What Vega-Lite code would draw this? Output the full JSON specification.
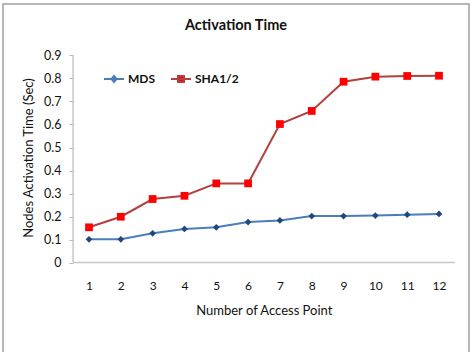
{
  "$schema": "https://vega.github.io/schema/vega-lite/v6.json",
  "width": 466,
  "height": 352,
  "autosize": {"type": "none"},
  "padding": {"left": 3, "top": 4, "right": 5, "bottom": 0},
  "background": "white",
  "config": {
    "view": {"stroke": "#a0a0a0", "strokeWidth": 1.5},
    "font": "Lato"
  },
  "title": {
    "text": "Activation Time",
    "font": "Lato",
    "fontSize": 14.5,
    "fontWeight": "bold",
    "color": "#111111",
    "anchor": "middle",
    "frame": "group",
    "baseline": "middle",
    "offset": -36
  },
  "datasets": {
    "times": [
      {"ap": 1, "series": "MDS", "time": 0.101},
      {"ap": 2, "series": "MDS", "time": 0.101},
      {"ap": 3, "series": "MDS", "time": 0.127},
      {"ap": 4, "series": "MDS", "time": 0.146},
      {"ap": 5, "series": "MDS", "time": 0.153},
      {"ap": 6, "series": "MDS", "time": 0.176},
      {"ap": 7, "series": "MDS", "time": 0.183},
      {"ap": 8, "series": "MDS", "time": 0.202},
      {"ap": 9, "series": "MDS", "time": 0.202},
      {"ap": 10, "series": "MDS", "time": 0.204},
      {"ap": 11, "series": "MDS", "time": 0.208},
      {"ap": 12, "series": "MDS", "time": 0.211},
      {"ap": 1, "series": "SHA1/2", "time": 0.153},
      {"ap": 2, "series": "SHA1/2", "time": 0.199},
      {"ap": 3, "series": "SHA1/2", "time": 0.276},
      {"ap": 4, "series": "SHA1/2", "time": 0.29},
      {"ap": 5, "series": "SHA1/2", "time": 0.344},
      {"ap": 6, "series": "SHA1/2", "time": 0.344},
      {"ap": 7, "series": "SHA1/2", "time": 0.602},
      {"ap": 8, "series": "SHA1/2", "time": 0.659},
      {"ap": 9, "series": "SHA1/2", "time": 0.786},
      {"ap": 10, "series": "SHA1/2", "time": 0.808},
      {"ap": 11, "series": "SHA1/2", "time": 0.811},
      {"ap": 12, "series": "SHA1/2", "time": 0.812}
    ],
    "axisLines": [
      {"ap": 0.5, "ap2": 12.5, "time": 0, "time2": 0},
      {"ap": 0.5, "ap2": 0.5, "time": 0, "time2": 0.9}
    ]
  },
  "encoding": {
    "x": {
      "field": "ap",
      "type": "quantitative",
      "scale": {"domain": [-1.703, 12.943], "nice": false, "zero": false},
      "axis": {
        "orient": "bottom",
        "offset": -93.5,
        "values": [1, 2, 3, 4, 5, 6, 7, 8, 9, 10, 11, 12],
        "format": "d",
        "domain": false,
        "ticks": false,
        "tickSize": 0,
        "grid": false,
        "labelOverlap": false,
        "labelPadding": 23,
        "labelBaseline": "middle",
        "labelFont": "Lato",
        "labelFontSize": 12,
        "labelColor": "#111111",
        "title": "Number of  Access Point",
        "titleFont": "Lato",
        "titleFontSize": 13,
        "titleFontWeight": "normal",
        "titleColor": "#111111",
        "titleX": 260.8,
        "titleY": 47.5,
        "titleBaseline": "middle"
      }
    },
    "y": {
      "field": "time",
      "type": "quantitative",
      "scale": {"domain": [-0.4065, 1.1239], "nice": false, "zero": false},
      "axis": {
        "orient": "left",
        "offset": -70,
        "values": [0, 0.1, 0.2, 0.3, 0.4, 0.5, 0.6, 0.7, 0.8, 0.9],
        "format": ".1~f",
        "domain": false,
        "grid": false,
        "ticks": true,
        "tickSize": 4,
        "tickColor": "#b8b8b8",
        "labelOverlap": false,
        "labelPadding": 8,
        "labelFont": "Lato",
        "labelFontSize": 12.5,
        "labelColor": "#111111",
        "title": "Nodes Activation Time (Sec)",
        "titleFont": "Lato",
        "titleFontSize": 13,
        "titleFontWeight": "normal",
        "titleColor": "#111111",
        "titleX": -45,
        "titleY": 153.5,
        "titleBaseline": "middle"
      }
    }
  },
  "layer": [
    {
      "data": {"name": "axisLines"},
      "mark": {"type": "rule", "color": "#c6c6c6", "strokeWidth": 1.5},
      "encoding": {
        "x2": {"field": "ap2"},
        "y2": {"field": "time2"}
      }
    },
    {
      "data": {"name": "times"},
      "mark": {"type": "line", "strokeWidth": 2},
      "encoding": {
        "color": {
          "field": "series",
          "type": "nominal",
          "scale": {"domain": ["MDS", "SHA1/2"], "range": ["#4a7ebb", "#b3403d"]},
          "legend": {
            "orient": "none",
            "legendX": 100,
            "legendY": 64,
            "direction": "horizontal",
            "title": null,
            "padding": 0,
            "symbolSize": 400,
            "symbolStrokeWidth": 2,
            "symbolType": "M-1,0H1",
            "labelFont": "Lato",
            "labelFontSize": 12,
            "labelFontWeight": "bold",
            "labelColor": "#111111",
            "labelOffset": 3,
            "columnPadding": 11,
            "encode": {
              "symbols": {
                "update": {
                  "shape": {"signal": "datum.value === 'MDS' ? 'M-1,0H1M0,-0.3L0.25,0L0,0.3L-0.25,0Z' : 'M-1,0H1M-0.3,-0.3H0.3V0.3H-0.3Z'"},
                  "fill": {"signal": "datum.value === 'MDS' ? '#1f497d' : '#ff0000'"},
                  "fillOpacity": {"value": 1}
                }
              }
            }
          }
        }
      }
    },
    {
      "data": {"name": "times"},
      "mark": {"type": "point", "filled": true, "opacity": 1, "strokeWidth": 0},
      "encoding": {
        "shape": {"condition": {"test": "datum.series === 'MDS'", "value": "diamond"}, "value": "square"},
        "fill": {"condition": {"test": "datum.series === 'MDS'", "value": "#1f497d"}, "value": "#ff0000"},
        "size": {"condition": {"test": "datum.series === 'MDS'", "value": 45}, "value": 60}
      }
    }
  ]
}
